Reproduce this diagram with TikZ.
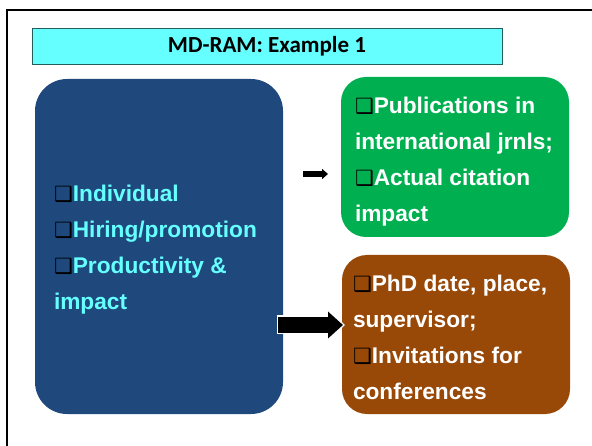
\documentclass[tikz,border=0pt]{standalone}
\usepackage{fontspec}
\setmainfont{Liberation Sans}
\newfontfamily\titlefont{Carlito}
\newfontfamily\symfont{DejaVu Sans}
\usetikzlibrary{arrows.meta}

\definecolor{ramblue}{HTML}{1F497D}
\definecolor{ramgreen}{HTML}{00B050}
\definecolor{rambrown}{HTML}{984807}
\definecolor{ramcyan}{HTML}{66FFFF}
\definecolor{ramteal}{HTML}{215E5E}

% shadowed check box in front of each item
\newcommand{\chk}{{\symfont\color{black}\fontsize{21}{21}\selectfont ❑}}

\tikzset{
  panel/.style={rounded corners=#1, inner sep=0pt},
  itemtext/.style={font=\bfseries\fontsize{22.7}{36}\selectfont, align=left, inner sep=0pt}
}

\begin{document}
\begin{tikzpicture}[x=1pt,y=-1pt]
    \useasboundingbox (0,0) rectangle (592,446);

    % slide frame
    \draw[line width=2.2pt] (7,446) -- (7,10) -- (592,10);

    % title bar
    \node[draw=ramteal, fill=ramcyan, minimum width=470pt, minimum height=36pt, inner sep=0pt,
          font=\titlefont\bfseries\fontsize{23}{28}\selectfont] (title) at (267,46) {MD-RAM: Example 1};

    % the three boxes
    \node[panel=32pt, fill=ramblue, minimum width=248pt, minimum height=335pt] (ind) at (159,246.5) {};
    \node[panel=25pt, fill=ramgreen, minimum width=228pt, minimum height=160pt] (pub) at (455,157) {};
    \node[panel=25pt, fill=rambrown, minimum width=228pt, minimum height=159pt] (phd) at (456,334.5) {};

    % texts in the boxes
    \node[itemtext, text=ramcyan, anchor=west] (indtxt) at ([xshift=19pt,yshift=-3pt]ind.west)
        {\chk Individual\\ \chk Hiring/promotion\\ \chk Productivity \&\\ impact};
    \node[itemtext, text=white, anchor=west] (pubtxt) at ([xshift=14pt,yshift=-4.5pt]pub.west)
        {\chk Publications in\\ international jrnls;\\ \chk Actual citation\\ impact};
    \node[itemtext, text=white, anchor=west] (phdtxt) at ([xshift=11pt,yshift=-3pt]phd.west)
        {\chk PhD date, place,\\ supervisor;\\ \chk Invitations for\\ conferences};

    % arrows
    \coordinate (sfrom) at (303,174);
    \coordinate (sto) at (328,174);
    \coordinate (bfrom) at (278,325);
    \coordinate (bto) at (343,325);
    \draw[line width=6pt, -{Triangle[length=6pt,width=10pt]}] (sfrom) -- (sto);
    \draw[white, line width=19pt, -{Triangle[length=17pt,width=31pt]}] ([xshift=-1.5pt]bfrom) -- ([xshift=2pt]bto);
    \draw[line width=16pt, -{Triangle[length=15pt,width=26pt]}] (bfrom) -- (bto);
\end{tikzpicture}
\end{document}
